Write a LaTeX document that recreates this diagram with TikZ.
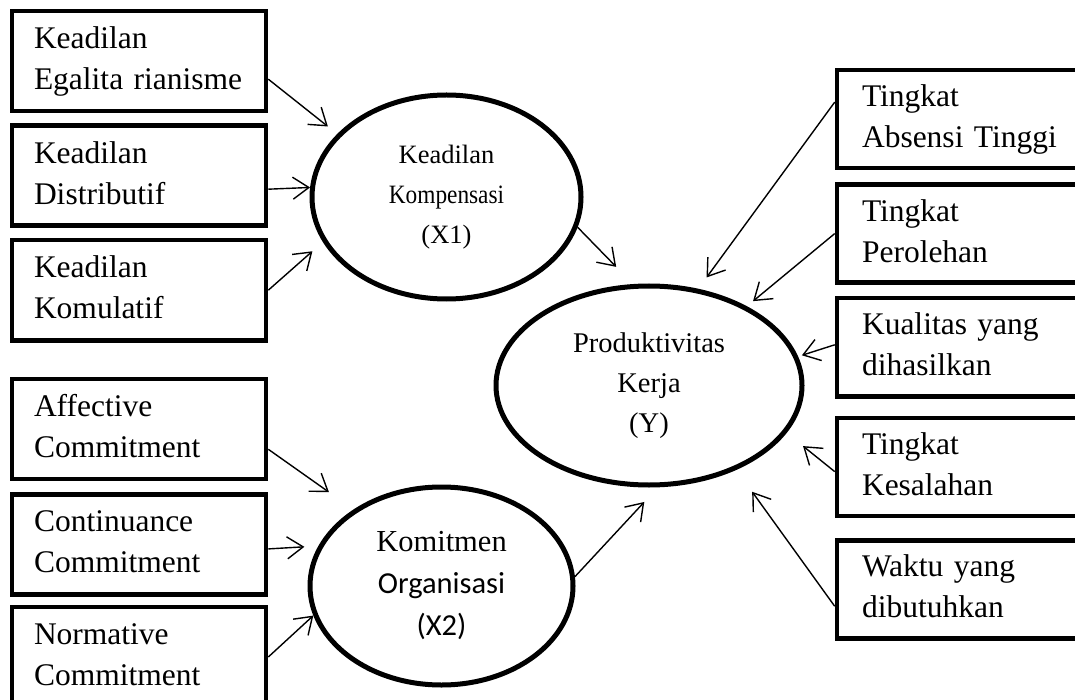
\documentclass[tikz,border=0pt]{standalone}
\usepackage{fontspec}
\setmainfont{Liberation Serif}
\newfontfamily\calfont{Carlito}
\newfontfamily\narrowfont[FakeStretch=0.88]{Liberation Serif}
\usetikzlibrary{shapes.geometric,arrows.meta}
\usetikzlibrary{positioning}
\newcommand{\bstrut}{\rule[-8pt]{0pt}{32pt}}

\begin{document}
\begin{tikzpicture}[x=1pt,y=-1pt,
>={Straight Barb[length=16pt,width=22pt]},
leftnode/.style={rectangle, draw, line width=4.6pt, minimum width=254pt, minimum height=100pt,
inner xsep=22pt, inner ysep=0pt, text width=210pt, align=left, font=\fontsize{31.5}{41}\selectfont
},
rightnode/.style={rectangle, draw, line width=4.6pt, minimum width=270pt, minimum height=98pt,
inner xsep=25pt, inner ysep=0pt, text width=220pt, align=left, font=\fontsize{31.5}{41}\selectfont
},
varnode/.style={ellipse, draw, line width=5pt, inner sep=0pt, align=center
},
link/.style={line width=1.4pt, ->}]
\useasboundingbox (0,0) rectangle (1075,700);
\clip (0,0) rectangle (1075,700);
%Nodes
\node[leftnode]   (ke1) at (139,61)          {\bstrut Keadilan\\\bstrut Egalita rianisme};
\node[leftnode]   (ke2) [below=10pt of ke1]  {\bstrut Keadilan\\\bstrut Distributif};
\node[leftnode]   (ke3) [below=10pt of ke2]  {\bstrut Keadilan\\\bstrut Komulatif};
\node[leftnode]   (ac)  [below=34pt of ke3]  {\bstrut Affective\\\bstrut Commitment};
\node[leftnode]   (co)  [below=11pt of ac]   {\bstrut Continuance\\\bstrut Commitment};
\node[leftnode]   (no)  [below=8pt of co]    {\bstrut Normative\\\bstrut Commitment};

\node[varnode, minimum width=269pt, minimum height=204pt, font=\fontsize{26.5}{40}\selectfont]
  (kx1) at (446.5,197) {Keadilan\\{\narrowfont Kompensasi}\\(X1)};
\node[varnode, minimum width=263pt, minimum height=198pt, font=\fontsize{30.5}{42}\selectfont]
  (ko2) at (441.5,586) {Komitmen\\{\calfont Organisasi}\\{\calfont (X2)}};
\node[varnode, minimum width=306pt, minimum height=199pt, font=\fontsize{28.5}{40}\selectfont]
  (pk) at (649,385.5) {Produktivitas\\Kerja\\(Y)};

\node[rightnode]  (r1) at (972,119)          {\bstrut Tingkat\\\bstrut Absensi Tinggi};
\node[rightnode]  (r2) [below=12pt of r1]    {\bstrut Tingkat\\\bstrut Perolehan};
\node[rightnode]  (r3) [below=11pt of r2]    {\bstrut Kualitas yang\\\bstrut dihasilkan};
\node[rightnode]  (r4) [below=17pt of r3]    {\bstrut Tingkat\\\bstrut Kesalahan};
\node[rightnode]  (r5) [below=20pt of r4]    {\bstrut Waktu yang\\\bstrut dibutuhkan};

%Lines
\draw[link, shorten >=12pt] (ke1.-8) -- (kx1.150);
\draw[link] (ke2.-6) -- (kx1.176);
\draw[link, shorten >=14pt] (ke3.east) -- (kx1.200);
\draw[link, shorten >=30pt] (ac.-9) -- (ko2.139);
\draw[link, shorten >=14pt] (co.-2) -- (ko2.162);
\draw[link] (no.east) -- (ko2.193);
\draw[link, shorten >=24pt] (kx1.-13) -- (pk.99);
\draw[link, shorten >=20pt] (ko2.4) -- (pk.-85);
\draw[link, shorten >=14pt] (r1.173) -- (pk.63);
\draw[link, shorten >=8pt] (r2.west) -- (pk.39);
\draw[link, shorten >=4pt] (r3.179) -- (pk.11);
\draw[link, shorten >=21pt] (r4.182) -- (pk.-19);
\draw[link, shorten >=27pt] (r5.187) -- (pk.-44);
\end{tikzpicture}
\end{document}
